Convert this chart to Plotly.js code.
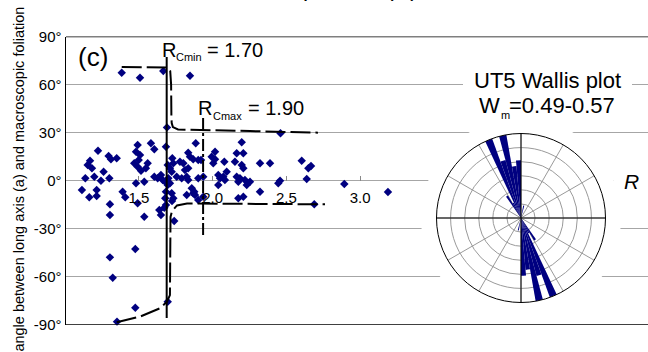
<!DOCTYPE html>
<html>
<head>
<meta charset="utf-8">
<script src="https://cdn.plot.ly/plotly-3.0.1.min.js"></script>
<style>html,body{margin:0;padding:0;background:#fff;}#chart{width:648px;height:352px;}</style>
</head>
<body>
<div id="chart"></div>
<script>
// ---- data ----
const shapeRatio = [
  1.383,1.507,1.665,1.846,1.690,2.460,
  1.222,1.294,1.310,1.349,1.168,1.152,1.181,1.260,1.136,1.197,1.242,1.299,1.113,1.163,1.213,1.213,1.303,
  1.491,1.480,1.507,1.498,1.581,1.604,1.468,1.491,1.514,1.559,1.547,1.604,1.627,1.661,1.649,1.536,1.480,
  1.683,1.695,1.678,1.695,1.683,1.389,1.407,1.678,
  1.885,2.197,2.016,1.834,1.846,1.726,1.733,1.778,1.801,1.868,1.902,1.921,1.993,2.016,2.004,2.079,2.163,
  2.208,2.151,2.197,2.208,2.321,1.710,1.722,1.812,1.834,1.756,1.790,1.834,1.824,1.902,1.936,2.038,2.050,
  2.083,2.072,2.095,2.163,2.185,2.219,2.253,2.231,2.174,1.699,1.710,1.722,1.733,1.858,1.875,1.880,1.902,
  2.174,2.208,2.321,2.038,
  2.389,2.604,2.649,2.667,2.445,2.457,2.638,2.893,2.689,3.189,
  1.303,1.491,1.536,1.638,1.649,1.672,1.683,1.724,1.739,1.475,1.303,1.322,1.475,1.695,1.351,1.824,1.868,1.936
];
const angleDeg = [
  67.4,64.3,68.5,65.5,33.3,29.6,
  18.7,15.4,13.4,14.0,12.5,9.8,7.8,5.6,1.5,2.5,0.0,1.5,-5.8,-10.3,-5.8,-9.5,-14.7,
  22.3,18.1,16.1,12.9,23.4,19.6,10.9,8.8,6.3,10.9,7.8,2.5,1.5,0.5,3.6,-0.6,-1.6,
  21.2,9.8,-0.6,-2.7,-6.8,-6.8,-10.3,-10.9,
  23.4,24.0,18.1,17.5,15.0,14.0,10.9,11.9,10.9,13.4,12.9,12.9,15.0,13.4,10.9,11.9,17.1,
  17.1,11.9,9.8,7.8,10.9,7.8,5.6,6.7,7.8,2.5,1.5,0.5,2.5,1.5,2.5,3.6,1.5,
  0.5,2.5,5.6,2.5,1.5,0.5,-0.6,-2.7,-0.6,1.5,-1.6,-7.8,-10.9,-4.7,-6.8,-8.9,-12.0,
  -10.9,-10.0,-6.8,-2.7,
  10.9,12.5,7.8,9.2,-1.6,0.0,1.1,-2.0,-14.7,-7.0,
  -21.4,-14.1,-22.4,-18.2,-21.4,-16.8,-15.1,-12.6,-25.1,-42.6,-47.8,-60.5,-79.2,-75.5,-87.9,-8.9,-7.8,-10.0
];
// theoretical curves
const upperCurveX = [1.383, 1.676, 1.700, 1.712, 1.718, 1.720, 1.722, 1.730, 1.765, 2.253, 2.714];
const upperCurveY = [71.0, 71.0, 70.6, 68.5, 60.0, 40.0, 36.0, 33.5, 32.0, 31.0, 30.0];
const lowerCurveX = [1.349, 1.507, 1.642, 1.690, 1.710, 1.714, 1.714, 1.724, 1.758, 1.826, 2.762];
const lowerCurveY = [-88.3, -84.8, -79.6, -75.5, -71.3, -49.4, -22.6, -18.9, -15.4, -14.2, -14.7];
const rcMinX = [1.688, 1.688], rcMinY = [77.2, -85.6];
const rcMaxX = [1.935, 1.935], rcMaxY = [39.1, -34.5];
// Wallis rose (compass degrees, ring units; 6 = outer circle)
const roseTheta = [327.5,332.5,337.5,342.5,347.5,352.5,357.5,12.5,147.5,152.5,157.5,162.5,167.5,172.5,177.5,192.5];
const roseR     = [1.85, 1.2, 6.0, 4.26, 6.0, 3.7, 4.1, 0.9, 1.85, 1.2, 6.0, 4.26, 6.0, 3.7, 4.1, 0.9];
const xTickVals = [1.5, 2.0, 2.5, 3.0];
const xTickText = ['1.5', '2.0', '2.5', '3.0'];
const yTickVals = [-90, -60, -30, 0, 30, 60, 90];
const yTickText = ['-90°', '-60°', '-30°', '0°', '30°', '60°', '90°'];

const W = 648, H = 352;
const px = v => v / W;
const py = v => 1 - v / H;
const FONT = 'Liberation Sans, Arial, sans-serif';
const NAVY = '#000080';

const traces = [
  {type:'scatter', mode:'markers', x: shapeRatio, y: angleDeg, cliponaxis:false,
   marker:{symbol:'diamond', size:6.5, color:NAVY}, hoverinfo:'skip', showlegend:false},
  {type:'scatter', mode:'lines', x: rcMinX, y: rcMinY, line:{color:'#000', width:2}, hoverinfo:'skip', showlegend:false},
  {type:'scatter', mode:'lines', x: rcMaxX, y: rcMaxY, line:{color:'#000', width:2, dash:'12px,3px,3px,3px'}, hoverinfo:'skip', showlegend:false},
  {type:'scatter', mode:'lines', x: upperCurveX, y: upperCurveY, line:{color:'#000', width:2, dash:'20px,5px'}, hoverinfo:'skip', showlegend:false},
  {type:'scatter', mode:'lines', x: lowerCurveX, y: lowerCurveY, line:{color:'#000', width:2, dash:'20px,5px'}, hoverinfo:'skip', showlegend:false},
  // white disc behind the rose
  {type:'scatterpolar', subplot:'polar', r:[0], theta:[0], mode:'markers', marker:{opacity:0}, hoverinfo:'skip', showlegend:false},
  // rose
  {type:'barpolar', subplot:'polar2', r: roseR, theta: roseTheta, width: 5,
   marker:{color:NAVY, line:{color:NAVY, width:0}}, hoverinfo:'skip', showlegend:false},
  {type:'scatterpolar', subplot:'polar2', mode:'lines', r:[6,0,6], theta:[0,0,180], line:{color:'#000', width:1}, hoverinfo:'skip', showlegend:false},
  {type:'scatterpolar', subplot:'polar2', mode:'lines', r:[6,0,6], theta:[90,0,270], line:{color:'#000', width:1}, hoverinfo:'skip', showlegend:false}
];

const ann = (text, x, y, size, opts) => Object.assign({
  text, x, y, xref:'paper', yref:'paper', showarrow:false, xanchor:'left', yanchor:'middle',
  font:{family:FONT, size, color:'#000'}
}, opts || {});

const layout = {
  width: W, height: H,
  margin:{l:0, r:0, t:0, b:0},
  paper_bgcolor:'#fff', plot_bgcolor:'#fff',
  font:{family:FONT, color:'#000'},
  showlegend:false,
  xaxis:{domain:[px(66), 1], range:[1.005, 4.953], anchor:'free', position: py(180.75),
    showgrid:false, zeroline:false, showline:false,
    tickmode:'array', tickvals:xTickVals, ticktext:xTickText,
    ticks:'inside', ticklen:5, tickwidth:1, tickcolor:'#888', ticklabelstandoff:6,
    tickfont:{family:FONT, size:15, color:'#000'}},
  yaxis:{domain:[py(325), py(36.5)], range:[-90, 90], anchor:'x',
    showgrid:true, gridcolor:'#a6a6a6', gridwidth:1, zeroline:false,
    showline:true, linecolor:'#000', linewidth:1.5, ticks:'',
    tickmode:'array', tickvals:yTickVals, ticktext:yTickText,
    tickfont:{family:FONT, size:15, color:'#000'}},
  polar:{domain:{x:[px(421), px(621)], y:[py(318), py(118)]}, bgcolor:'#fff',
    radialaxis:{visible:false}, angularaxis:{visible:false}},
  polar2:{domain:{x:[px(436.5), px(605.5)], y:[py(302.5), py(133.5)]}, bgcolor:'#fff',
    radialaxis:{range:[0,6], tickvals:[1,2,3,4,5], showticklabels:false, ticks:'', showline:false,
      gridcolor:'#9a9a9a', gridwidth:1},
    angularaxis:{rotation:90, direction:'clockwise', tickmode:'array',
      tickvals:[0,30,60,90,120,150,180,210,240,270,300,330], showticklabels:false, ticks:'',
      gridcolor:'#9a9a9a', gridwidth:1, showline:true, linecolor:'#000', linewidth:1}},
  shapes:[
    {type:'line', xref:'paper', yref:'y', x0:px(66), x1:1, y0:90, y1:90, line:{color:'#000', width:1.5}},
    {type:'line', xref:'paper', yref:'y', x0:px(66), x1:1, y0:-90, y1:-90, line:{color:'#000', width:1.5}},
    {type:'rect', xref:'paper', yref:'paper', x0:px(463), x1:px(632), y0:py(117), y1:py(66),
      fillcolor:'#fff', line:{width:0}, layer:'above'}
  ],
  annotations:[
    ann('Shape ratio (R)', 0.5247, 1 + 12/H, 23, {xanchor:'center'}),
    ann('angle between long axis (a) and macroscopic foliation', px(18.6), py(179), 14.5, {xanchor:'center', textangle:-90}),
    ann('(c)', px(92.5), py(56.7), 26, {xanchor:'center'}),
    ann('R', px(159.7), py(50), 20),
    ann('Cmin', px(174), py(56.7), 11),
    ann('= 1.70', px(205), py(50), 20),
    ann('R', px(196.3), py(107.5), 20),
    ann('Cmax', px(210.7), py(116), 11),
    ann('= 1.90', px(245.7), py(107.5), 20),
    ann('UT5 Wallis plot', px(547), py(80.5), 22, {xanchor:'center'}),
    ann('W', px(477), py(105.5), 22),
    ann('m', px(499), py(115), 11),
    ann('=0.49-0.57', px(507), py(105.5), 22),
    ann('<i>R</i>', px(631), py(181), 21, {xanchor:'center', bgcolor:'#fff', borderpad:10})
  ]
};

Plotly.newPlot('chart', traces, layout, {staticPlot:true, displayModeBar:false});
</script>
</body>
</html>
